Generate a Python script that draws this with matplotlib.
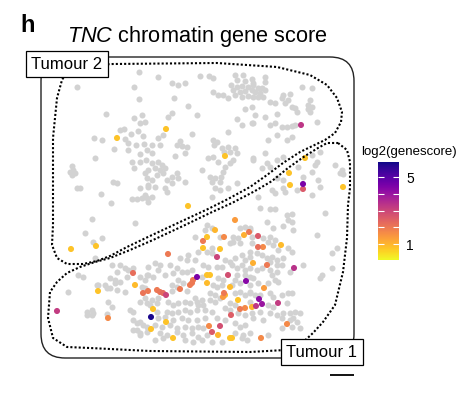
#!/usr/bin/env python3
"""Spatial map of the TNC chromatin gene score over two tumour regions."""

import matplotlib

matplotlib.use("Agg")
import matplotlib.pyplot as plt
import numpy as np
from matplotlib.colors import Normalize
from matplotlib.patches import FancyBboxPatch

# -----------------------------------------------------------------------------
# DATA (spatial spot coordinates, image-like units with y pointing down)
# -----------------------------------------------------------------------------

# Spots without signal (grey).
grey_x = [
    77, 139, 134, 139, 106, 134, 142, 140, 145, 120, 124, 131, 138, 143, 94, 102, 125, 128, 136, 144,
    114, 128, 140, 147, 95, 132, 140, 146, 134, 72, 73, 70, 75, 72, 145, 147, 113, 117, 77, 80,
    101, 140, 148, 132, 137, 142, 147, 111, 148,
    158, 200, 209, 213, 172, 178, 185, 235, 243, 237, 245, 252, 231, 237, 242, 248, 253, 233, 240, 245,
    252, 235, 242, 248, 228, 213, 218, 223, 174, 188, 245, 252, 197, 172, 168, 237, 242, 252, 192, 228,
    163, 158, 213, 217, 214, 180, 177, 182, 187, 152, 160, 222, 228, 235, 224, 230, 237, 152, 185, 175,
    208, 213, 218, 233, 230, 253, 152, 158, 162, 155, 160, 165, 148, 163, 157, 202, 225, 223, 221, 177,
    172, 178, 167, 172, 210, 215, 212, 220, 152, 148, 155, 185, 237, 228, 165, 167, 145, 152, 215, 220,
    212,
    265, 265, 253, 258, 262, 255, 260, 265, 253, 258, 263, 302, 312, 283, 290, 282, 288, 285, 310, 308,
    312, 308, 310, 270, 275, 292, 295, 297, 255, 265, 277, 270, 275, 282, 287, 292, 295, 317, 253, 277,
    268, 265, 283, 312, 320, 253, 317, 315, 262, 270, 298, 312, 335, 342, 340, 343, 283, 277, 303, 318,
    320, 297, 283, 285, 272, 275, 258, 312, 287, 292, 267, 277,
    92, 135, 85, 102, 93, 95, 120, 125, 128, 133, 112, 117, 78, 83, 110, 115, 120, 115, 140, 147,
    105, 107, 98, 142, 145, 68, 110, 117, 125, 108, 112, 140, 147, 87, 92, 93, 87, 92, 130, 133,
    107, 140, 137, 143, 147, 133, 140, 97, 127, 133, 137, 147, 140,
    207, 212, 205, 195, 220, 240, 245, 250, 233, 238, 233, 230, 240, 252, 252, 212, 207, 212, 198, 188,
    180, 187, 195, 225, 230, 235, 242, 245, 250, 155, 160, 148, 158, 170, 203, 208, 217, 222, 232, 237,
    242, 245, 250, 177, 182, 187, 192, 165, 173, 148, 153, 145, 202, 237, 245, 250, 218, 223, 178, 183,
    172, 177, 213, 217, 222, 235, 240, 232, 172, 187, 235, 240, 245, 250, 210, 215, 220, 210, 215, 145,
    152, 158, 157, 150, 195, 202, 197, 190, 198, 203, 168, 173, 178, 185, 230, 235, 225, 230, 157, 167,
    172, 178, 185, 190, 197, 205, 212, 238, 245, 252, 158, 165, 173, 182, 188, 197, 205, 217, 225, 155,
    162, 170, 177, 185, 192, 198, 203, 235, 240, 245, 160, 167, 177, 183, 192, 198, 207, 235, 243, 250,
    155, 163, 185, 193, 202, 212, 222, 242, 247,
    260, 270, 275, 287, 292, 288, 292, 325, 267, 283, 273, 293, 317, 250, 263, 270, 268, 275, 273, 278,
    288, 292, 337, 332, 250, 257, 262, 267, 272, 277, 270, 277, 283, 282, 303, 290, 332, 257, 262, 270,
    277, 253, 272, 275, 322, 320, 250, 258, 268, 278, 288, 292, 250, 255, 260, 270, 273, 282, 287, 268,
    273, 250, 300, 260, 270, 277, 283, 290, 295, 253, 263, 282, 290, 293, 297, 292, 282, 300, 268,
]
grey_y = [
    87, 72, 87, 99, 114, 118, 115, 123, 122, 130, 129, 134, 131, 136, 138, 140, 139, 143, 145, 144,
    149, 150, 154, 150, 158, 162, 162, 160, 168, 166, 170, 172, 173, 175, 173, 178, 182, 183, 188, 188,
    194, 188, 187, 199, 199, 198, 198, 203, 202,
    77, 76, 76, 78, 83, 85, 83, 75, 75, 80, 81, 79, 85, 87, 86, 87, 85, 90, 92, 91,
    90, 95, 97, 96, 98, 92, 95, 95, 98, 106, 109, 107, 115, 113, 117, 119, 125, 123, 134, 132,
    135, 138, 140, 142, 145, 141, 145, 146, 147, 145, 145, 148, 147, 148, 152, 152, 153, 153, 153, 156,
    158, 157, 162, 160, 163, 158, 163, 162, 165, 168, 170, 168, 170, 173, 175, 170, 167, 172, 177, 173,
    177, 178, 180, 183, 177, 178, 182, 182, 180, 185, 187, 182, 183, 188, 188, 192, 195, 197, 188, 190,
    197,
    77, 82, 83, 88, 88, 92, 93, 90, 97, 97, 97, 87, 88, 95, 94, 98, 100, 103, 100, 105,
    107, 109, 112, 102, 103, 107, 108, 112, 115, 117, 114, 125, 123, 127, 127, 126, 125, 122, 123, 135,
    140, 153, 157, 155, 152, 160, 162, 165, 168, 167, 167, 172, 165, 170, 173, 174, 180, 178, 177, 180,
    187, 190, 188, 192, 190, 193, 197, 195, 140, 137, 163, 160,
    219, 223, 233, 238, 242, 258, 265, 268, 270, 268, 265, 272, 275, 277, 278, 280, 282, 283, 277, 275,
    285, 288, 285, 287, 288, 292, 288, 290, 292, 302, 307, 302, 303, 312, 310, 313, 315, 315, 310, 312,
    314, 322, 323, 325, 327, 330, 333, 285, 277, 320, 330, 332, 335,
    225, 228, 230, 237, 237, 228, 227, 228, 237, 238, 242, 243, 243, 237, 243, 248, 252, 253, 252, 255,
    258, 260, 260, 260, 262, 258, 255, 260, 257, 263, 265, 267, 270, 265, 265, 267, 267, 267, 265, 268,
    265, 270, 268, 268, 272, 272, 270, 275, 273, 275, 277, 280, 277, 275, 275, 277, 278, 280, 280, 283,
    285, 287, 285, 287, 285, 280, 283, 285, 291, 291, 293, 292, 295, 292, 293, 295, 298, 300, 302, 298,
    300, 298, 303, 305, 298, 300, 302, 303, 305, 305, 302, 305, 303, 302, 303, 305, 308, 310, 312, 312,
    313, 312, 310, 312, 310, 310, 312, 313, 315, 313, 318, 317, 320, 318, 320, 320, 318, 318, 320, 325,
    327, 325, 328, 327, 328, 327, 328, 323, 327, 325, 333, 335, 332, 335, 333, 337, 335, 333, 335, 333,
    340, 338, 340, 342, 340, 342, 342, 338, 340,
    208, 209, 209, 215, 214, 220, 222, 213, 222, 226, 228, 230, 235, 230, 238, 237, 242, 240, 245, 250,
    248, 252, 248, 253, 252, 253, 255, 258, 257, 260, 262, 265, 258, 265, 265, 272, 268, 270, 268, 270,
    272, 278, 275, 280, 275, 278, 285, 283, 283, 282, 293, 293, 293, 295, 295, 293, 297, 295, 303, 305,
    307, 302, 313, 312, 313, 315, 313, 313, 312, 318, 320, 318, 320, 318, 322, 327, 328, 328, 335,
]

# Spots with a TNC chromatin gene score: position and log2(genescore).
hit_x = [
    117, 166, 225, 188, 71, 96, 301,
    305, 289, 290, 303, 303, 343,
    235, 249, 244, 258, 258, 263, 281, 224, 215, 207, 203, 203, 220, 217, 168,
    253, 267, 294, 207, 210, 197, 228, 246,
    193, 192, 190, 207, 230, 225, 223, 224,
    143, 148, 157, 160, 163, 166, 135, 133, 180, 264, 238,
    231, 240, 245, 252, 256, 259, 262, 278, 287,
    209, 220, 212, 218, 173, 230, 232, 261, 166, 151, 153, 151, 108, 57, 98,
]
hit_y = [
    138, 129, 156, 206, 249, 246, 125,
    158, 173, 185, 184, 189, 187,
    220, 232, 235, 236, 247, 247, 245, 237, 230, 237, 241, 248, 249, 257, 254,
    263, 265, 268, 275, 275, 277, 275, 281,
    280, 283, 285, 283, 287, 295, 297, 293,
    293, 291, 290, 292, 293, 295, 285, 273, 289, 288, 300,
    315, 309, 308, 307, 306, 299, 304, 303, 324,
    326, 326, 332, 335, 338, 338, 338, 338, 322, 317, 309, 329, 318, 311, 291,
]
hit_score = [
    0.8, 0.8, 0.8, 0.8, 0.8, 0.8, 3.3,
    0.8, 0.8, 0.8, 4.5, 2.6, 0.8,
    1.4, 2.0, 1.1, 2.6, 2.2, 1.7, 0.9, 1.7, 1.0, 0.8, 2.0, 0.8, 0.8, 3.0, 2.0,
    1.1, 2.0, 3.4, 0.8, 0.8, 4.5, 2.8, 4.3,
    2.0, 2.0, 2.0, 0.9, 0.9, 1.0, 1.4, 2.0,
    2.1, 2.0, 2.0, 2.1, 2.3, 3.0, 0.9, 2.2, 2.0, 1.4, 0.8,
    2.5, 2.0, 1.7, 1.0, 3.3, 4.2, 4.0, 3.2, 1.7,
    1.7, 2.8, 2.6, 1.0, 0.8, 0.8, 0.8, 1.7, 0.8, 5.8, 0.8, 0.8, 1.7, 3.2, 0.8,
]

# Region outlines drawn as dotted lines.
tumour2_x = [70, 113, 217, 277, 310, 327, 337, 342, 341, 335, 325, 300, 283, 267, 250, 228, 208, 180,
             150, 127, 110, 97, 83, 67, 57, 52, 53, 53, 53, 57, 62, 70]
tumour2_y = [66, 64, 63, 67, 75, 85, 98, 112, 122, 133, 140, 152, 163, 175, 187, 199, 209, 222,
             236, 247, 256, 261, 264, 264, 258, 245, 225, 172, 138, 98, 80, 66]
tumour1_x = [338, 347, 350, 350, 348, 347, 343, 335, 323, 313, 300, 285, 250, 150, 90, 67, 53, 48,
             50, 57, 67, 80, 95, 110, 130, 153, 183, 210, 232, 255, 272, 288, 305, 318, 327, 338]
tumour1_y = [143, 150, 162, 188, 205, 238, 272, 305, 322, 333, 345, 350, 352, 351, 348, 347, 338, 318,
             292, 282, 273, 267, 262, 258, 250, 240, 226, 213, 203, 191, 181, 168, 156, 148, 143, 143]

SCORE_MIN = 0.05
SCORE_MAX = 5.9
CBAR_TICKS = [1, 5]
CBAR_MINOR = [2, 3, 4]

# -----------------------------------------------------------------------------
# FIGURE
# -----------------------------------------------------------------------------

plt.rcParams["font.family"] = ["Liberation Sans", "DejaVu Sans"]
plt.rcParams["mathtext.fontset"] = "custom"
plt.rcParams["mathtext.rm"] = "Liberation Sans"
plt.rcParams["mathtext.it"] = "Liberation Sans:italic"

W, H = 470, 395
fig = plt.figure(figsize=(W / 100, H / 100), dpi=100)

# Axes frame in pixel units so spot coordinates map 1:1.
X0, X1, Y0, Y1 = 15, 375, 45, 390
ax = fig.add_axes([X0 / W, 1 - Y1 / H, (X1 - X0) / W, (Y1 - Y0) / H])
ax.set_xlim(X0, X1)
ax.set_ylim(Y1, Y0)
ax.axis("off")

ax.add_patch(FancyBboxPatch((41, 57), 313, 301, boxstyle="round,pad=0,rounding_size=24",
                            fc="none", ec="#222222", lw=1.0, zorder=1))

ax.scatter(grey_x, grey_y, s=19, c="#d2d2d2", linewidths=0, zorder=2)

norm = Normalize(vmin=SCORE_MIN, vmax=SCORE_MAX)
order = np.argsort(hit_score)
sc = ax.scatter(np.array(hit_x)[order], np.array(hit_y)[order], s=19,
                c=np.array(hit_score)[order], cmap="plasma_r", norm=norm,
                linewidths=0, zorder=3)

dots = (0, (1, 1.0))
ax.plot(tumour2_x, tumour2_y, color="black", lw=1.5, ls=dots, zorder=4)
ax.plot(tumour1_x, tumour1_y, color="black", lw=1.5, ls=dots, zorder=4)

box = dict(boxstyle="square,pad=0.33", fc="white", ec="black", lw=0.9)
ax.text(67, 64, "Tumour 2", fontsize=12, ha="center", va="center", bbox=box, zorder=6)
ax.text(322, 352, "Tumour 1", fontsize=12, ha="center", va="center", bbox=box, zorder=6,
        clip_on=False)

# scale bar
ax.plot([330, 354], [375, 375], color="black", lw=1.3, solid_capstyle="butt")

fig.text(20 / W, 1 - 32 / H, "h", fontsize=17, fontweight="bold", va="baseline")
fig.text(67 / W, 1 - 42 / H, r"$\mathit{TNC}$ chromatin gene score", fontsize=15.7,
         va="baseline")

# colour bar
cax = fig.add_axes([378 / W, 1 - 260 / H, 21 / W, 98 / H])
cbar = fig.colorbar(sc, cax=cax)
cbar.outline.set_visible(False)
cbar.set_ticks(CBAR_TICKS)
cbar.set_ticks(CBAR_MINOR, minor=True)
cax.tick_params(which="both", direction="in", color="white", width=0.8, length=4,
                left=True, right=True, labelsize=10, pad=5)
fig.text(409 / W, 1 - 155 / H, "log2(genescore)", fontsize=9.5, ha="center", va="baseline")

fig.savefig("out.png", dpi=100)
